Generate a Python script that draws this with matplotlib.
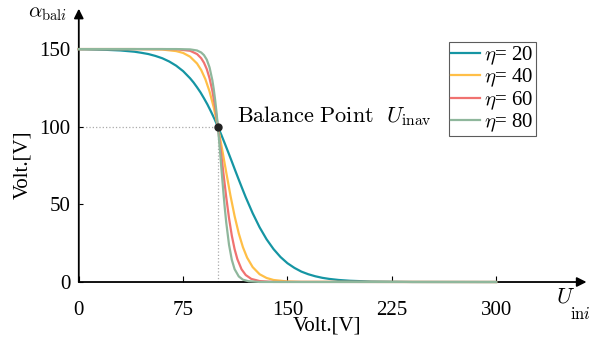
import matplotlib
matplotlib.use('Agg')
import matplotlib.pyplot as plt

plt.rcParams['font.family'] = ['Liberation Serif', 'DejaVu Serif']
plt.rcParams['mathtext.fontset'] = 'cm'

# values
eta_labels = [r'$\eta$= 20', r'$\eta$= 40', r'$\eta$= 60', r'$\eta$= 80']
colors = ['#1595a3', '#ffbf47', '#f07270', '#8fb79c']

u_eta20 = [0, 10, 20, 30, 40, 45, 50, 55, 60, 65, 70, 75, 80, 82.5, 85, 87.5, 90,
           92.5, 95, 97.5, 100, 102.5, 105, 107.5, 110, 112.5, 115, 117.5, 120,
           125, 130, 135, 140, 145, 150, 155, 160, 165, 170, 175, 180, 187, 195,
           210, 240, 300]
a_eta20 = [149.9, 149.7, 149.5, 149.1, 148.3, 147.6, 146.8, 145.6, 144.1, 142.0,
           139.3, 135.8, 131.2, 128.5, 125.4, 122.1, 118.3, 114.3, 109.8, 105.1,
           100.0, 94.7, 89.1, 83.4, 77.6, 71.7, 65.9, 60.2, 54.6, 44.3, 35.2, 27.5,
           21.2, 16.1, 12.1, 9.1, 6.7, 5.0, 3.7, 2.7, 2.0, 1.3, 0.8, 0.3, 0.03, 0.0]

u_eta40 = [0, 40, 60, 70, 75, 80, 85, 88, 91, 94, 97, 100, 103, 106, 109, 112,
           115, 118, 121, 125, 130, 135, 140, 150, 160, 300]
a_eta40 = [150.0, 150.0, 149.7, 148.7, 147.5, 145.1, 140.7, 136.5, 130.6, 122.7,
           112.5, 100.0, 85.7, 70.6, 55.8, 42.5, 31.3, 22.4, 15.7, 9.6, 5.0, 2.6,
           1.3, 0.35, 0.09, 0.0]

u_eta60 = [0, 60, 70, 80, 85, 88, 90, 92, 94, 96, 98, 100, 102, 104, 106, 108,
           110, 112, 114, 117, 120, 124, 130, 140, 300]
a_eta60 = [150.0, 150.0, 149.9, 148.9, 146.8, 144.1, 141.2, 137.1, 131.2, 123.2,
           112.8, 100.0, 85.3, 69.8, 54.6, 41.1, 29.9, 21.2, 14.7, 8.2, 4.5, 2.0,
           0.6, 0.06, 0.0]

u_eta80 = [0, 70, 80, 85, 88, 90, 92, 94, 96, 97, 98, 99, 100, 101, 102, 103,
           104, 105, 106, 108, 110, 112, 115, 118, 122, 130, 300]
a_eta80 = [150.0, 150.0, 149.8, 149.1, 147.8, 146.1, 143.2, 138.2, 130.0, 124.3,
           117.4, 109.3, 100.0, 89.8, 78.9, 67.9, 57.2, 47.2, 38.3, 24.0, 14.3,
           8.3, 3.6, 1.5, 0.5, 0.03, 0.0]

curves_u = [u_eta20, u_eta40, u_eta60, u_eta80]
curves_a = [a_eta20, a_eta40, a_eta60, a_eta80]

balance_u = 100
balance_a = 100
xticks = [0, 75, 150, 225, 300]
yticks = [0, 50, 100, 150]

fig = plt.figure(figsize=(6.01, 3.41), dpi=100)
ax = fig.add_axes([0.1311, 0.173, 0.8448, 0.8015])
ax.set_xlim(0, 365)
ax.set_ylim(0, 176)

for s in ax.spines.values():
    s.set_visible(False)

# axis arrows
ax.annotate('', xy=(1, 0), xytext=(0, 0), xycoords='axes fraction',
            arrowprops=dict(arrowstyle='-|>', color='black', lw=1.3,
                            mutation_scale=14, shrinkA=0, shrinkB=0), zorder=2)
ax.annotate('', xy=(0, 1), xytext=(0, 0), xycoords='axes fraction',
            arrowprops=dict(arrowstyle='-|>', color='black', lw=1.3,
                            mutation_scale=14, shrinkA=0, shrinkB=0), zorder=2)

# guide lines to the balance point
ax.plot([0, balance_u], [balance_a, balance_a], ls=':', color='#aaaaaa', lw=0.9, zorder=1)
ax.plot([balance_u, balance_u], [0, balance_a], ls=':', color='#aaaaaa', lw=0.9, zorder=1)

for u, a, c, lab in zip(curves_u, curves_a, colors, eta_labels):
    ax.plot(u, a, color=c, lw=1.6, label=lab, clip_on=False, zorder=3)

ax.plot([balance_u], [balance_a], 'o', color='#222222', ms=5, zorder=5)
ax.text(113.5, 107, r'$\mathrm{Balance\ Point}\ \ U_{\mathrm{inav}}$', fontsize=16,
        va='center', ha='left')

ax.set_xticks(xticks)
ax.set_yticks(yticks)
ax.tick_params(axis='x', direction='in', length=4, width=0.8, pad=14, labelsize=15)
ax.tick_params(axis='y', direction='in', length=3, width=0.8, pad=6, labelsize=15)

ax.set_xlabel('Volt.[V]', fontsize=15, labelpad=0)
ax.xaxis.set_label_coords(0.488, -0.125)
ax.set_ylabel('Volt.[V]', fontsize=15)
ax.yaxis.set_label_coords(-0.092, 0.43)

ax.text(-0.1, 0.982, r'$\alpha_{\mathrm{bal}i}$', transform=ax.transAxes,
        fontsize=15, ha='left', va='center')
# x axis name, subscript set a bit lower as in the original
fig.text(0.925, 0.126, r'$U$', fontsize=16, ha='left', va='center')
fig.text(0.948, 0.076, r'$\mathrm{in}i$', fontsize=12, ha='left', va='center')

leg = ax.legend(loc='upper left', bbox_to_anchor=(0.729, 0.878), fontsize=15,
                frameon=True, fancybox=False, edgecolor='#333333',
                handlelength=1.4, handletextpad=0.2, borderpad=0.1,
                labelspacing=0.0, borderaxespad=0)
leg.get_frame().set_linewidth(0.8)

fig.savefig('out.png', dpi=100)
